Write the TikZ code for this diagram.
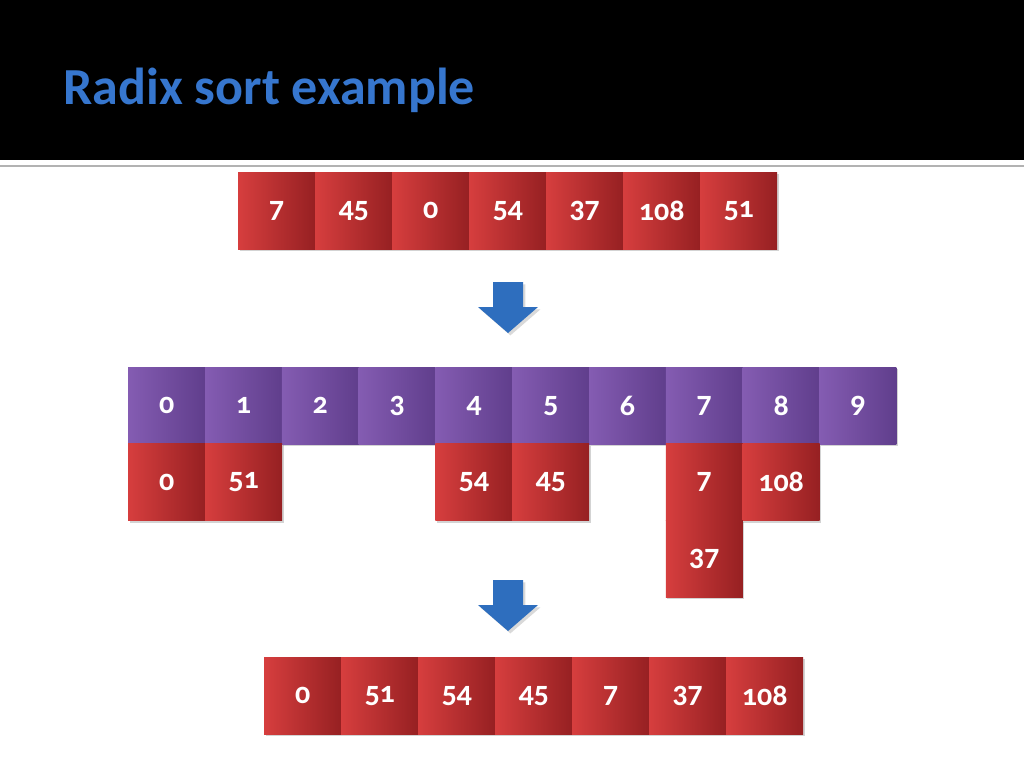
\documentclass[tikz,border=0pt]{standalone}
\usepackage{fontspec}
\setmainfont{Carlito}
\newfontfamily\numf[Numbers=OldStyle]{Carlito}
\begin{document}
\begin{tikzpicture}[x=1pt,y=-1pt,
  cell/.style={minimum width=77pt,minimum height=77pt,inner sep=0pt,anchor=north west,
    font=\numf\bfseries\fontsize{30}{30}\selectfont,text=white,
    drop shadow={shadow xshift=1.5pt,shadow yshift=-2pt,opacity=0.35}},
  red/.style={cell,left color=red!70!black!90!white,right color=red!55!black, middle color=red!75!black},
  rc/.style={cell,left color={rgb,255:red,214;green,62;blue,62},right color={rgb,255:red,150;green,32;blue,34}},
  pc/.style={cell,left color={rgb,255:red,132;green,92;blue,178},right color={rgb,255:red,96;green,62;blue,140}},
  arr/.style={fill={rgb,255:red,46;green,110;blue,190},draw=none,drop shadow={opacity=0.3}}]
\usetikzlibrary{shadows}
\useasboundingbox (0,0) rectangle (1024,768);
\fill[black] (0,0) rectangle (1024,160);
\draw[gray!60,line width=1.5pt] (0,166) -- (1024,166);
\node[anchor=west,text={rgb,255:red,54;green,118;blue,206},font=\bfseries\fontsize{52}{52}\selectfont] (title) at (60,90) {Radix sort example};
% row 1
\foreach \v [count=\i from 0] in {7,45,0,54,37,108,51}
  \node[rc] (a\i) at (238+77*\i,172) {\v};
% arrow 1
\path[arr] (493,282) -- (523,282) -- (523,307) -- (538,307) -- (508,333) -- (478,307) -- (493,307) -- cycle;
% buckets
\foreach \v [count=\i from 0] in {0,1,2,3,4,5,6,7,8,9}
  \node[pc] (b\i) at (128+76.8*\i,367) {\v};
\foreach \v/\i in {0/0,51/1,54/4,45/5,7/7,108/8}
  \node[rc] (c\i) at (128+76.8*\i,443.5) {\v};
\node[rc] (d7) at (128+76.8*7,520) {37};
% arrow 2
\path[arr] (493,580) -- (523,580) -- (523,605) -- (538,605) -- (508,631) -- (478,605) -- (493,605) -- cycle;
% row 3
\foreach \v [count=\i from 0] in {0,51,54,45,7,37,108}
  \node[rc] (e\i) at (264+77*\i,657) {\v};
\end{tikzpicture}
\end{document}
